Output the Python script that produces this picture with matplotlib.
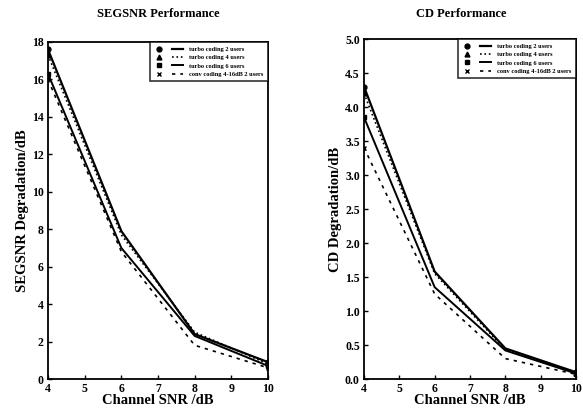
import matplotlib
matplotlib.use("Agg")
import matplotlib.pyplot as plt
from matplotlib.lines import Line2D
from matplotlib.legend_handler import HandlerTuple

plt.rcParams['font.family'] = ['Liberation Serif', 'DejaVu Serif']
plt.rcParams['font.weight'] = 'bold'

snr = [4, 6, 8, 10]
labels = ["turbo coding 2 users", "turbo coding 4 users",
          "turbo coding 6 users", "conv coding 4-16dB 2 users"]

seg_turbo2 = [17.6, 7.9, 2.4, 0.9]
seg_turbo4 = [17.3, 7.7, 2.5, 0.8]
seg_turbo6 = [16.3, 7.0, 2.3, 0.7]
seg_conv = [16.0, 6.8, 1.8, 0.6]

cd_turbo2 = [4.3, 1.58, 0.45, 0.10]
cd_turbo4 = [4.2, 1.55, 0.43, 0.09]
cd_turbo6 = [3.85, 1.35, 0.42, 0.08]
cd_conv = [3.4, 1.25, 0.30, 0.07]

styles = [('-', 'o', 1.6), (':', '^', 1.2), ('-', 's', 1.4), ((0, (2, 3)), 'x', 1.2)]

W, H = 583, 409
fig = plt.figure(figsize=(W / 100, H / 100), dpi=100)
ax1 = fig.add_axes([48 / W, 1 - 379 / H, 220 / W, (379 - 42) / H])
ax2 = fig.add_axes([364 / W, 1 - 379 / H, 212 / W, (379 - 39) / H])


def draw(ax, series, ylim, yticks, yfmt, ylabel):
    handles = []
    for vals, (ls, mk, lw) in zip(series, styles):
        ax.plot(snr, vals, color='black', linestyle=ls, linewidth=lw,
                marker=mk, markersize=3.5, markevery=[0, 3])
        h = (Line2D([], [], color='black', marker=mk, markersize=3.5, linestyle='none'),
             Line2D([], [], color='black', linestyle=ls, linewidth=lw))
        handles.append(h)
    ax.set_xlim(4, 10)
    ax.set_ylim(*ylim)
    ax.set_xticks(range(4, 11))
    ax.set_yticks(yticks)
    ax.set_yticklabels([yfmt.format(v) for v in yticks])
    ax.tick_params(direction='in', length=3, width=1, labelsize=8.5, pad=3)
    for s in ax.spines.values():
        s.set_linewidth(1.3)
    ax.set_xlabel("Channel SNR /dB", fontsize=10.5, fontweight='bold', labelpad=-1)
    ax.set_ylabel(ylabel, fontsize=10.5, fontweight='bold', labelpad=2)
    leg = ax.legend(handles, labels, handler_map={tuple: HandlerTuple(ndivide=None, pad=1.2)},
                    loc='upper right', borderaxespad=0, fontsize=4.6, frameon=True,
                    fancybox=False, edgecolor='black', handlelength=4.5,
                    handletextpad=1.0, labelspacing=0.45, borderpad=0.7)
    leg.get_frame().set_linewidth(1.2)


draw(ax1, [seg_turbo2, seg_turbo4, seg_turbo6, seg_conv], (0, 18),
     list(range(0, 19, 2)), "{:d}", "SEGSNR Degradation/dB")
draw(ax2, [cd_turbo2, cd_turbo4, cd_turbo6, cd_conv], (0, 5.0),
     [i * 0.5 for i in range(11)], "{:.1f}", "CD Degradation/dB")

fig.text(158 / W, 1 - 14 / H, "SEGSNR Performance", ha='center', va='center',
         fontsize=9, fontweight='bold')
fig.text(461 / W, 1 - 14 / H, "CD Performance", ha='center', va='center',
         fontsize=9, fontweight='bold')

fig.savefig("out.png", dpi=100)
